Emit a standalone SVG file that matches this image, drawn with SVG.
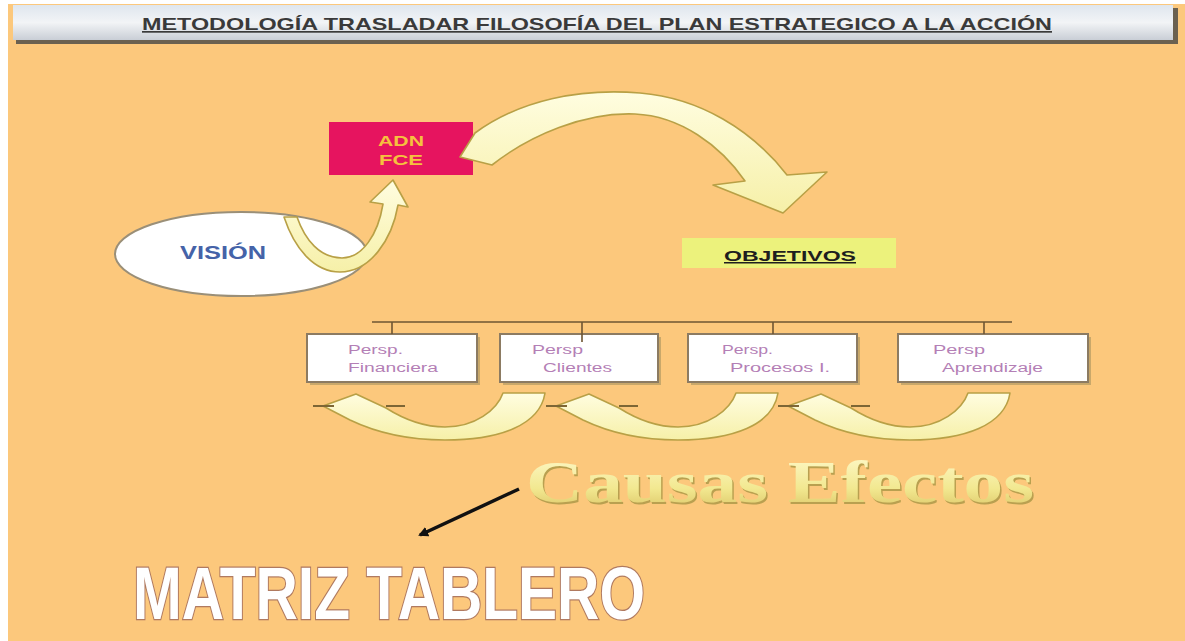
<svg xmlns="http://www.w3.org/2000/svg" width="1185" height="641" viewBox="0 0 1185 641">
<defs>
<linearGradient id="bar" x1="0" y1="0" x2="0" y2="1">
<stop offset="0" stop-color="#dfe6ee"/>
<stop offset="0.5" stop-color="#f2f4f6"/>
<stop offset="1" stop-color="#c9ced6"/>
</linearGradient>
<linearGradient id="arrowFill" x1="0" y1="0" x2="0" y2="1">
<stop offset="0" stop-color="#fffde0"/>
<stop offset="1" stop-color="#f6f0a8"/>
</linearGradient>
<linearGradient id="wordart" x1="0" y1="0" x2="0" y2="1">
<stop offset="0" stop-color="#fffbd0"/>
<stop offset="0.6" stop-color="#f2e890"/>
<stop offset="1" stop-color="#d8c060"/>
</linearGradient>
<marker id="blackHead" markerWidth="10" markerHeight="10" refX="8" refY="5" orient="auto" markerUnits="userSpaceOnUse" viewBox="0 0 10 10">
<path d="M0,0 L10,5 L0,10 Z" fill="#111"/>
</marker>
<filter id="soft" x="-10%" y="-10%" width="120%" height="130%">
<feGaussianBlur stdDeviation="0.6"/>
</filter>
</defs>
<style>
.arrow{fill:url(#arrowFill);stroke:#b8a046;stroke-width:1.6;stroke-linejoin:round}
.tick{stroke:#7d6635;stroke-width:2}
.box{fill:#fff;stroke:#8c7b62;stroke-width:2}
.boxShadow{fill:#c9a86a}
.persp{font-family:"Liberation Sans",Arial,sans-serif;font-size:12px;fill:#b47fb6}
.conn{stroke:#6e5532;stroke-width:1.6;fill:none}
</style>
<rect x="0" y="0" width="1185" height="641" fill="#ffffff"/>
<rect x="8" y="4" width="1177" height="637" fill="#fcc87c"/>

<g id="title">
<rect x="16" y="8" width="1162" height="36" fill="#6b6150"/>
<rect x="13" y="5" width="1160" height="35" fill="url(#bar)"/>
<text x="597" y="30" text-anchor="middle" textLength="910" lengthAdjust="spacingAndGlyphs" font-family="'Liberation Sans',Arial,sans-serif" font-size="17" font-weight="bold" fill="#3a3a3a" text-decoration="underline">METODOLOGÍA TRASLADAR FILOSOFÍA DEL PLAN ESTRATEGICO A LA  ACCIÓN</text>
</g>

<g id="vision">
<ellipse cx="241" cy="254" rx="126" ry="42" fill="#ffffff" stroke="#9a8f78" stroke-width="2"/>
<text x="223" y="259" text-anchor="middle" textLength="86" lengthAdjust="spacingAndGlyphs" font-family="'Liberation Sans',Arial,sans-serif" font-size="18" font-weight="bold" fill="#4563a8">VISIÓN</text>
</g>

<g id="adn">
<rect x="329" y="122" width="144" height="53" fill="#e6145f"/>
<text x="401" y="146" text-anchor="middle" textLength="46" lengthAdjust="spacingAndGlyphs" font-family="'Liberation Sans',Arial,sans-serif" font-size="15" font-weight="bold" fill="#f5c13e">ADN</text>
<text x="401" y="165" text-anchor="middle" textLength="44" lengthAdjust="spacingAndGlyphs" font-family="'Liberation Sans',Arial,sans-serif" font-size="15" font-weight="bold" fill="#f5c13e">FCE</text>
</g>

<g id="objetivos">
<rect x="682" y="238" width="214" height="30" fill="#ecf27c"/>
<text x="790" y="261" text-anchor="middle" textLength="132" lengthAdjust="spacingAndGlyphs" font-family="'Liberation Sans',Arial,sans-serif" font-size="15" font-weight="bold" fill="#1e1e1e" text-decoration="underline">OBJETIVOS</text>
</g>

<g id="persp-financiera">
<rect x="310" y="337" width="170" height="48" class="boxShadow"/>
<rect x="307" y="334" width="170" height="48" class="box"/>
<text x="348" y="354" class="persp" textLength="55" lengthAdjust="spacingAndGlyphs">Persp.</text>
<text x="348" y="372" class="persp" textLength="90" lengthAdjust="spacingAndGlyphs">Financiera</text>
</g>
<g id="persp-clientes">
<rect x="503" y="337" width="158" height="48" class="boxShadow"/>
<rect x="500" y="334" width="158" height="48" class="box"/>
<text x="532" y="354" class="persp" textLength="51" lengthAdjust="spacingAndGlyphs">Persp</text>
<text x="543" y="372" class="persp" textLength="69" lengthAdjust="spacingAndGlyphs">Clientes</text>
</g>
<g id="persp-procesos">
<rect x="691" y="337" width="169" height="48" class="boxShadow"/>
<rect x="688" y="334" width="169" height="48" class="box"/>
<text x="722" y="354" class="persp" textLength="51" lengthAdjust="spacingAndGlyphs">Persp.</text>
<text x="730" y="372" class="persp" textLength="100" lengthAdjust="spacingAndGlyphs">Procesos  I.</text>
</g>
<g id="persp-aprendizaje">
<rect x="901" y="337" width="190" height="48" class="boxShadow"/>
<rect x="898" y="334" width="190" height="48" class="box"/>
<text x="933" y="354" class="persp" textLength="52" lengthAdjust="spacingAndGlyphs">Persp</text>
<text x="942" y="372" class="persp" textLength="101" lengthAdjust="spacingAndGlyphs">Aprendizaje</text>
</g>

<g id="connectors">
<path class="conn" d="M372,322 H1012 M392,322 V334 M582,322 V342 M773,322 V334 M984,322 V334"/>
<path class="arrow" d="M284,217 C295,250 315,272 340,272 C370,272 392,240 398,205 L408,207 L393,180 L370,202 L383,204 C378,235 362,258 342,258 C320,258 305,240 297,217 Z"/>
<path class="arrow" d="M460,157 L475,133 C520,100 580,88 640,93 C700,98 752,130 787,175 L827,172 L783,213 L713,185 L745,181 C720,145 680,116 635,114 C585,112 530,135 492,165 Z"/>
<g id="ce1">
<path class="arrow" d="M323,406 L356,394 L386,408 C405,420 425,427 445,427 C475,427 497,410 503,393 L545,393 C540,425 500,440 445,440 C405,440 375,432 350,420 Z"/>
<path class="tick" d="M313,406 H334 M386,406 H405"/>
</g>
<g transform="translate(233,0)">
<path class="arrow" d="M323,406 L356,394 L386,408 C405,420 425,427 445,427 C475,427 497,410 503,393 L545,393 C540,425 500,440 445,440 C405,440 375,432 350,420 Z"/>
<path class="tick" d="M313,406 H334 M386,406 H405"/>
</g>
<g transform="translate(465,0)">
<path class="arrow" d="M323,406 L356,394 L386,408 C405,420 425,427 445,427 C475,427 497,410 503,393 L545,393 C540,425 500,440 445,440 C405,440 375,432 350,420 Z"/>
<path class="tick" d="M313,406 H334 M386,406 H405"/>
</g>
<line x1="519" y1="489" x2="420" y2="535" stroke="#111" stroke-width="3.5" marker-end="url(#blackHead)"/>
</g>

<g id="causas-efectos">
<text x="526" y="502" textLength="508" lengthAdjust="spacingAndGlyphs" font-family="'Liberation Serif','Times New Roman',serif" font-size="60" font-weight="bold" fill="#b9a050" transform="translate(1.5,1.5)">Causas Efectos</text>
<text x="526" y="502" textLength="508" lengthAdjust="spacingAndGlyphs" font-family="'Liberation Serif','Times New Roman',serif" font-size="60" font-weight="bold" fill="url(#wordart)">Causas Efectos</text>
</g>

<g id="matriz-tablero">
<text x="133" y="619" textLength="512" lengthAdjust="spacingAndGlyphs" font-family="'Liberation Sans',Arial,sans-serif" font-size="74" font-weight="bold" fill="#ffffff" stroke="#b07a60" stroke-width="2.5" paint-order="stroke">MATRIZ TABLERO</text>
</g>
</svg>
